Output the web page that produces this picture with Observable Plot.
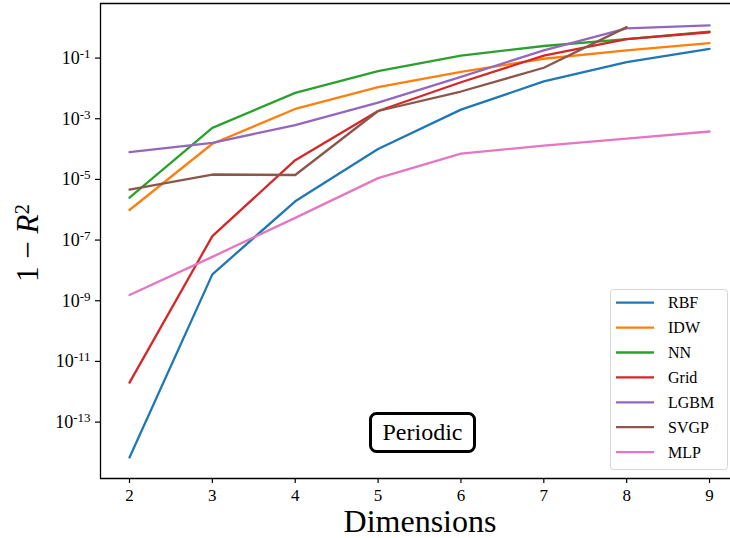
<!DOCTYPE html>
<html>
<head>
<meta charset="utf-8">
<script src="https://cdn.jsdelivr.net/npm/d3@7"></script>
<script src="https://cdn.jsdelivr.net/npm/@observablehq/plot@0.6"></script>
<style>
  html, body { margin: 0; padding: 0; background: #fff; }
  #chart { width: 730px; height: 538px; }
  #chart svg text, #chart svg tspan { font-family: "Liberation Serif", "DejaVu Serif", serif !important; }
</style>
</head>
<body>
<div id="chart"></div>
<script>
// ---- data ----
const dims = [2, 3, 4, 5, 6, 7, 8, 9];
const names = ["RBF", "IDW", "NN", "Grid", "LGBM", "SVGP", "MLP"];
const colors = ["#1f77b4", "#ff7f0e", "#2ca02c", "#d62728", "#9467bd", "#8c564b", "#e377c2"];

const RBF  = [6.8e-15, 7.4e-9, 1.9e-6, 1.0e-4, 2.0e-3, 1.7e-2, 7.4e-2, 0.20];
const IDW  = [9.8e-7, 1.5e-4, 2.1e-3, 1.1e-2, 3.5e-2, 9.5e-2, 0.18, 0.31];
const NN   = [2.5e-6, 5.0e-4, 7.1e-3, 3.7e-2, 0.12, 0.25, 0.42, 0.74];
const Grid = [2.0e-12, 1.35e-7, 4.3e-5, 1.8e-3, 1.6e-2, 0.12, 0.42, 0.71];
const LGBM = [7.9e-5, 1.6e-4, 6.2e-4, 3.4e-3, 2.4e-2, 0.18, 0.95, 1.2];
const SVGP = [4.6e-6, 1.45e-5, 1.4e-5, 1.8e-3, 7.9e-3, 4.8e-2, 1.05];
const MLP  = [1.55e-9, 2.8e-8, 5.4e-7, 1.1e-5, 7.1e-5, 1.3e-4, 2.2e-4, 3.8e-4];

const seriesValues = [RBF, IDW, NN, Grid, LGBM, SVGP, MLP];
const yTicks = [1e-1, 1e-3, 1e-5, 1e-7, 1e-9, 1e-11, 1e-13];
const xTicks = dims;
const annotation = "Periodic";

// axis limits
const X_DOMAIN = [1.65, 9.253];
const Y_DOMAIN = [1.38e-15, 6.3];

const rows = seriesValues.flatMap((vals, s) =>
  vals.map((v, i) => ({ dim: dims[i], value: v, name: names[s] })));

const FONT = "Liberation Serif, DejaVu Serif, serif";

const chart = Plot.plot({
  width: 730,
  height: 538,
  marginLeft: 100,
  marginRight: 0,
  marginTop: 3,
  marginBottom: 60,
  style: { fontFamily: FONT, fontSize: "17px", background: "#fff", color: "#000", overflow: "visible" },
  x: { domain: X_DOMAIN },
  y: { type: "log", domain: Y_DOMAIN },
  color: { domain: names, range: colors },
  marks: [
    Plot.line(rows, { x: "dim", y: "value", z: "name", stroke: "name", strokeWidth: 2.3 }),
    Plot.ruleX([X_DOMAIN[0]], { stroke: "#000", strokeWidth: 1.3 }),
    Plot.ruleY([Y_DOMAIN[0], Y_DOMAIN[1]], { stroke: "#000", strokeWidth: 1.3 }),
    Plot.axisX({ ticks: xTicks, tickSize: 5, tickPadding: 5, tickFormat: d => String(d), label: null, fontSize: 17, strokeWidth: 1.2 }),
    Plot.axisY({ ticks: yTicks, tickSize: 5, tickPadding: 5, tickFormat: d => "10|" + Math.round(Math.log10(d)), label: null, fontSize: 18, strokeWidth: 1.2 })
  ]
});

document.getElementById("chart").appendChild(chart);
const svg = d3.select(chart);

// superscript exponents on the y tick labels
svg.selectAll("text").each(function () {
  const t = d3.select(this);
  const s = this.textContent;
  if (s.includes("|")) {
    const [base, exp] = s.split("|");
    t.text(null);
    t.append("tspan").text(base);
    t.append("tspan").attr("dy", "-0.45em").attr("font-size", "13px").text(exp);
  }
});

// axis titles
svg.append("text")
  .attr("x", 420).attr("y", 532)
  .attr("text-anchor", "middle")
  .attr("font-size", 32)
  .text("Dimensions");

const yl = svg.append("text")
  .attr("transform", "translate(38,243) rotate(-90)")
  .attr("text-anchor", "middle")
  .attr("font-size", 31);
yl.append("tspan").text("1 \u2212 ");
yl.append("tspan").attr("font-style", "italic").text("R");
yl.append("tspan").attr("dy", "-0.45em").attr("font-size", 21).text("2");

// legend
const lg = svg.append("g");
lg.append("rect")
  .attr("x", 610.5).attr("y", 289.5).attr("width", 117).attr("height", 180)
  .attr("rx", 3).attr("fill", "#fff").attr("fill-opacity", 0.85)
  .attr("stroke", "#d6d6d6").attr("stroke-width", 1);
names.forEach((n, i) => {
  const y = 302.7 + i * 24.9;
  lg.append("line").attr("x1", 616).attr("x2", 654).attr("y1", y).attr("y2", y)
    .attr("stroke", colors[i]).attr("stroke-width", 2.3);
  lg.append("text").attr("x", 668).attr("y", y + 5.5)
    .attr("text-anchor", "start")
    .attr("font-size", 16).text(n);
});

// annotation box
const ann = svg.append("g");
ann.append("rect")
  .attr("x", 370.5).attr("y", 413.5).attr("width", 104).attr("height", 38)
  .attr("rx", 6).attr("fill", "#fff").attr("stroke", "#000").attr("stroke-width", 3);
ann.append("text")
  .attr("x", 422.5).attr("y", 440).attr("text-anchor", "middle")
  .attr("font-size", 24).text(annotation);
</script>
</body>
</html>
